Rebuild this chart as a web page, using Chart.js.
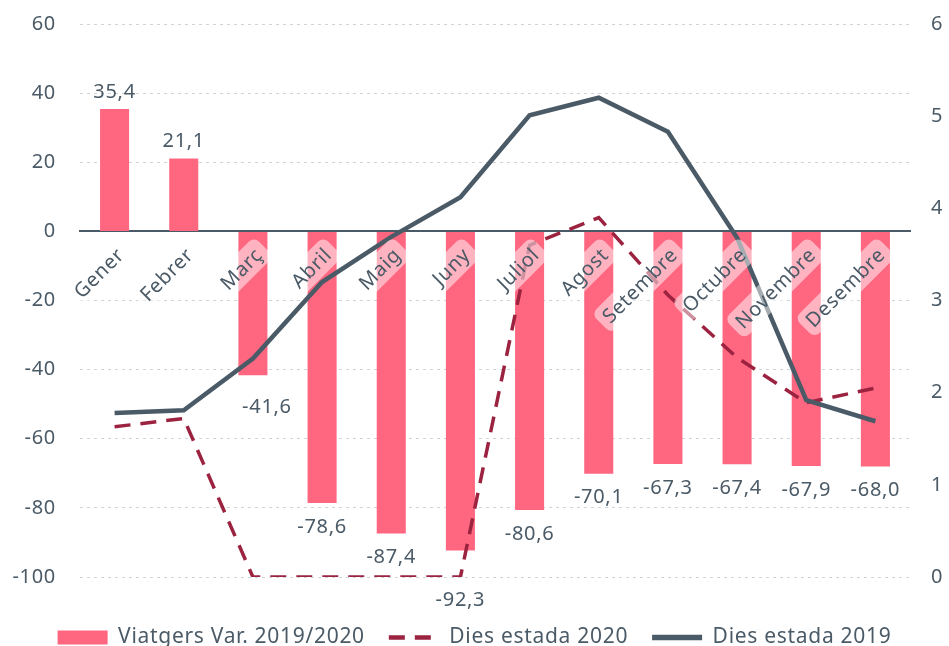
<!DOCTYPE html>
<html>
<head>
<meta charset="utf-8">
<script src="https://cdn.jsdelivr.net/npm/chart.js@4"></script>
<style>
  html, body { margin: 0; padding: 0; background: #fff; }
  #wrap { width: 949px; height: 646px; }
</style>
</head>
<body>
<div id="wrap"><canvas id="myChart"></canvas></div>
<script>
const months = ["Gener", "Febrer", "Març", "Abril", "Maig", "Juny", "Juliol", "Agost", "Setembre", "Octubre", "Novembre", "Desembre"];
const viatgersVar = [35.4, 21.1, -41.6, -78.6, -87.4, -92.3, -80.6, -70.1, -67.3, -67.4, -67.9, -68.0];
const dies2020 = [1.63, 1.72, 0, 0, 0, 0, 3.60, 3.90, 3.06, 2.38, 1.89, 2.05];
const dies2019 = [1.78, 1.81, 2.37, 3.20, 3.69, 4.12, 5.01, 5.20, 4.83, 3.68, 1.92, 1.69];

const textColor = "#4a5a66";
const fontFamily = "'Noto Sans', sans-serif";

// slightly wider lettering, closer to the original typeface
const spacing = {
  id: 'spacing',
  beforeUpdate(chart) { chart.ctx.letterSpacing = '0.7px'; },
  beforeDraw(chart) { chart.ctx.letterSpacing = '0.7px'; }
};

// month names sit on the zero line, drawn over the marks with a see-through backdrop
const monthLabels = {
  id: 'monthLabels',
  afterDatasetsDraw(chart) {
    const ctx = chart.ctx;
    const xs = chart.scales.x;
    const zeroY = chart.scales.y.getPixelForValue(0);
    ctx.save();
    ctx.font = "20px " + fontFamily;
    ctx.textAlign = 'right';
    ctx.textBaseline = 'middle';
    months.forEach((m, i) => {
      const x = xs.getPixelForValue(i) + 6;
      const y = zeroY + 20;
      const w = ctx.measureText(m).width;
      ctx.save();
      ctx.translate(x, y);
      ctx.rotate(-Math.PI / 4);
      ctx.fillStyle = 'rgba(255,255,255,0.5)';
      ctx.beginPath();
      ctx.roundRect(-w - 6, -14, w + 13, 28, 7);
      ctx.fill();
      ctx.fillStyle = textColor;
      ctx.fillText(m, 0, 1);
      ctx.restore();
    });
    ctx.restore();
  }
};

// value labels above / below the bars, comma as decimal mark
const barLabels = {
  id: 'barLabels',
  afterDatasetsDraw(chart) {
    const ctx = chart.ctx;
    const meta = chart.getDatasetMeta(0);
    ctx.save();
    ctx.font = "20px " + fontFamily;
    ctx.fillStyle = textColor;
    ctx.textAlign = 'center';
    meta.data.forEach((bar, i) => {
      const v = viatgersVar[i];
      const txt = v.toFixed(1).replace('.', ',');
      let x = bar.x, y;
      if (v >= 0) {
        ctx.textBaseline = 'bottom';
        y = bar.y - 7;
      } else {
        ctx.textBaseline = 'top';
        y = bar.y + 14;
        if (i === 2) { x += 14; y += 8; }
        if (i === 5) { y += 26; }
      }
      ctx.fillText(txt, x, y);
    });
    ctx.restore();
  }
};

// fixed axis widths, no extra top/bottom padding from the tick labels
function fixAxis(width) {
  return (scale) => {
    scale.width = width;
    scale.paddingTop = 0;
    scale.paddingBottom = 0;
  };
}

const data = {
  labels: months,
  datasets: [
    {
      type: 'bar',
      label: 'Viatgers Var. 2019/2020',
      data: viatgersVar,
      backgroundColor: '#ff6680',
      yAxisID: 'y',
      barPercentage: 0.84,
      categoryPercentage: 0.5,
      order: 3
    },
    {
      type: 'line',
      label: 'Dies estada 2020',
      data: dies2020,
      borderColor: '#9b2340',
      backgroundColor: '#9b2340',
      borderWidth: 3.5,
      borderDash: [16, 10],
      pointRadius: 0,
      tension: 0,
      yAxisID: 'y1',
      order: 2
    },
    {
      type: 'line',
      label: 'Dies estada 2019',
      data: dies2019,
      borderColor: '#4a5a66',
      backgroundColor: '#4a5a66',
      borderWidth: 4.5,
      pointRadius: 0,
      tension: 0,
      yAxisID: 'y1',
      order: 1
    }
  ]
};

const config = {
  type: 'bar',
  data: data,
  plugins: [spacing, monthLabels, barLabels],
  options: {
    responsive: true,
    maintainAspectRatio: false,
    animation: false,
    layout: { padding: { top: 24, left: 0, right: 0, bottom: 0 } },
    scales: {
      x: {
        position: { y: 0 },
        grid: { display: false },
        border: { color: '#4a5a66', width: 2 },
        ticks: { display: false }
      },
      y: {
        position: 'left',
        min: -100,
        max: 60,
        afterFit: fixAxis(80),
        ticks: {
          stepSize: 20,
          color: textColor,
          font: { family: fontFamily, size: 20 },
          padding: 24
        },
        grid: { color: '#cdd3d9', lineWidth: 1, drawTicks: false },
        border: { display: false, dash: [3, 4] }
      },
      y1: {
        position: 'right',
        min: 0,
        max: 6,
        afterFit: fixAxis(39),
        ticks: {
          stepSize: 1,
          color: textColor,
          font: { family: fontFamily, size: 20 },
          padding: 21
        },
        grid: { display: false, drawTicks: false },
        border: { display: false }
      }
    },
    plugins: {
      legend: {
        position: 'bottom',
        maxHeight: 69,
        title: {
          display: true,
          text: ' ',
          font: { size: 10 },
          padding: { top: 0, bottom: 14 }
        },
        labels: {
          color: textColor,
          font: { family: fontFamily, size: 21 },
          usePointStyle: true,
          pointStyleWidth: 50,
          boxHeight: 14,
          padding: 24,
          generateLabels(chart) {
            return chart.data.datasets.map((ds, i) => ({
              text: ds.label,
              fillStyle: ds.backgroundColor,
              strokeStyle: ds.borderColor || ds.backgroundColor,
              lineWidth: ds.type === 'bar' ? 0 : (ds.borderWidth + 1),
              lineDash: ds.borderDash || [],
              pointStyle: ds.type === 'bar' ? 'rect' : 'line',
              fontColor: textColor,
              datasetIndex: i,
              hidden: false
            }));
          }
        }
      },
      tooltip: { enabled: false }
    }
  }
};

let myChart = new Chart(document.getElementById('myChart'), config);
</script>
</body>
</html>
